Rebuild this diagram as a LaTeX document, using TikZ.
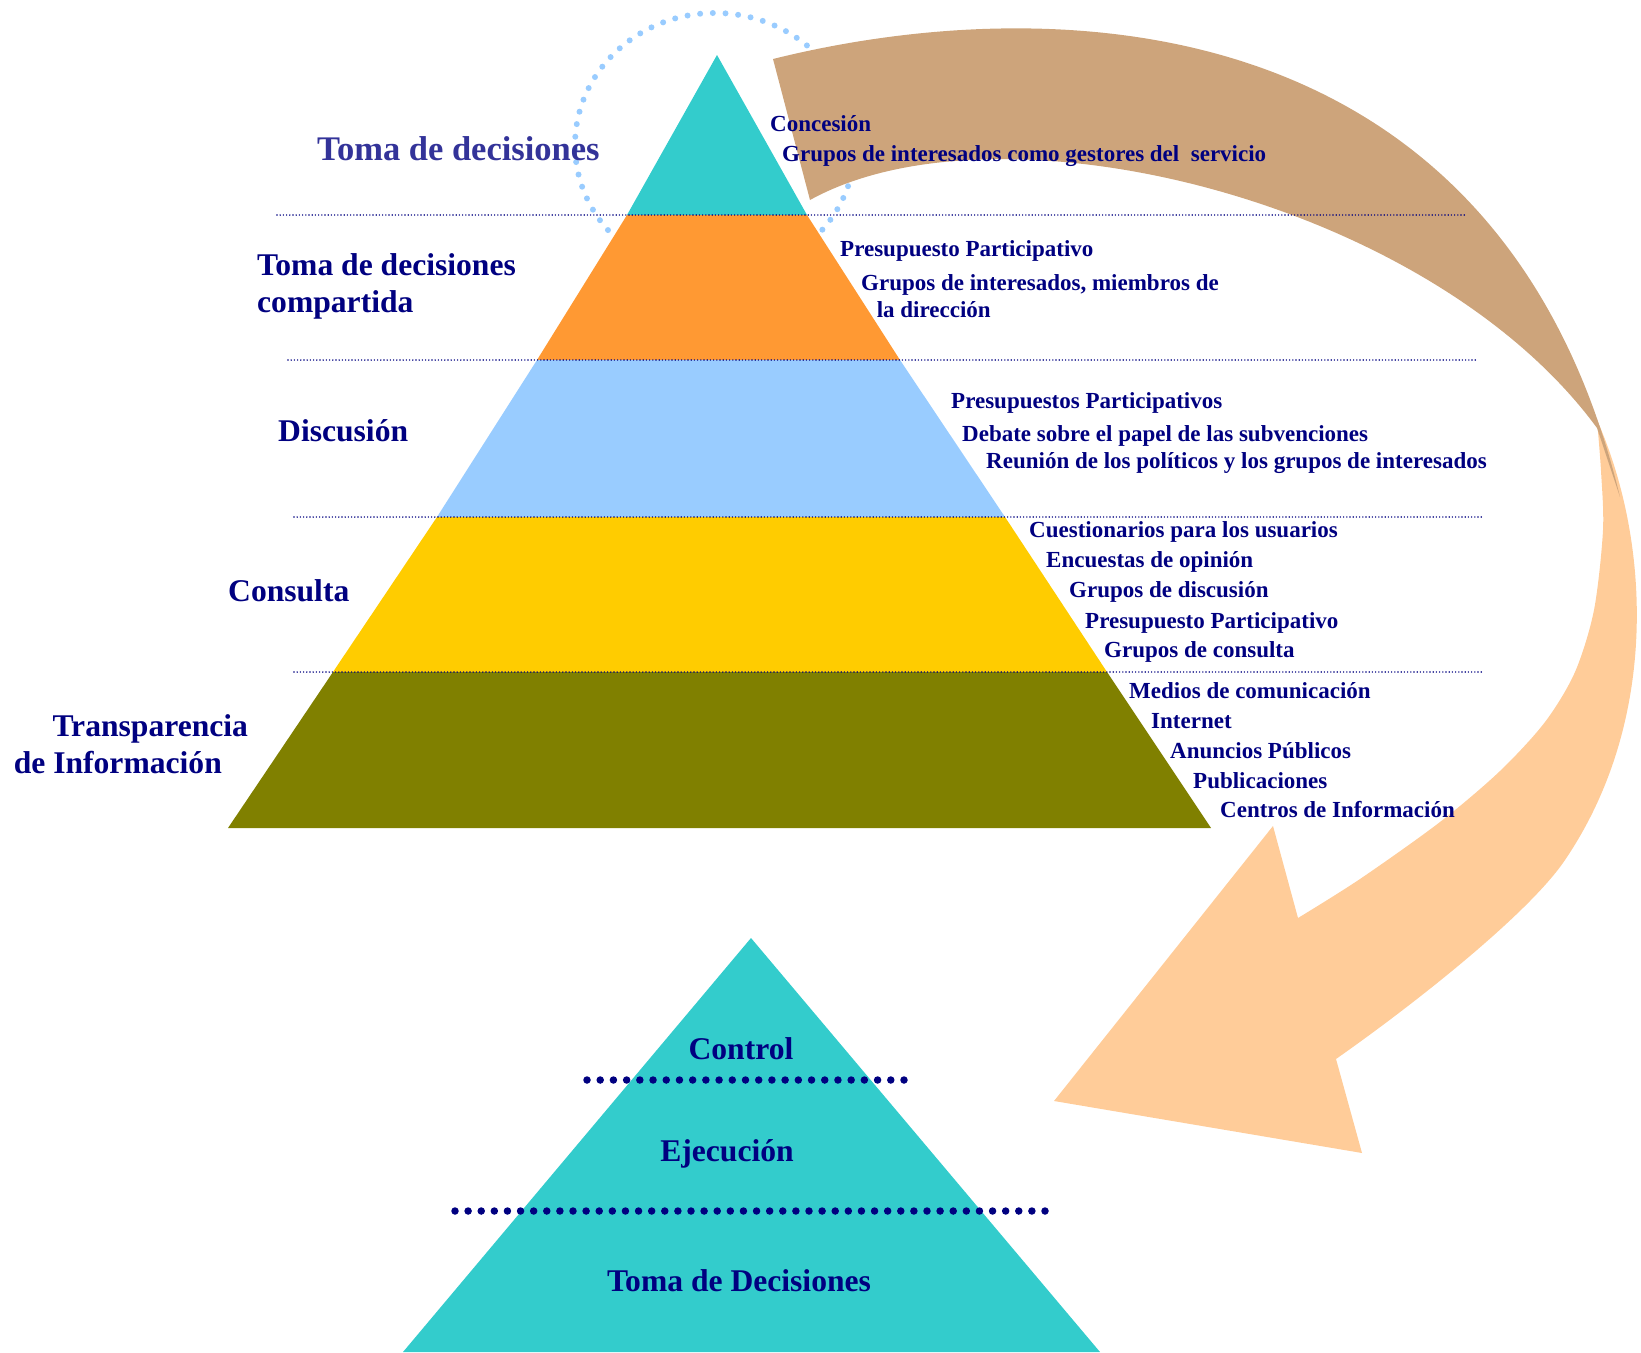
\documentclass[tikz,border=0pt]{standalone}
\usepackage{fontspec}
\setmainfont{Liberation Serif}
\usepackage{tikz}

\begin{document}
\begin{tikzpicture}[x=1pt,y=-1pt,
  band/.style={fill=#1,draw=none},
  sep/.style={draw=navy,line width=1.6pt,line cap=round,dash pattern=on 0pt off 3.2pt},
  bigsep/.style={draw=navy,line width=7.5pt,line cap=round,dash pattern=on 0pt off #1},
  level/.style={anchor=base west,inner sep=0pt,align=left,text=navy,font=\bfseries\fontsize{31.6}{37}\selectfont},
  item/.style={anchor=base west,inner sep=0pt,align=left,text=navy,font=\bfseries\fontsize{23}{26.2}\selectfont},
  stage/.style={anchor=base,inner sep=0pt,text=navy,font=\bfseries\fontsize{31.6}{37}\selectfont}]
  \definecolor{navy}{rgb}{0,0,0.5}
  \definecolor{topblue}{HTML}{333399}
  \definecolor{decide}{HTML}{33CCCC}
  \definecolor{share}{HTML}{FF9933}
  \definecolor{discuss}{HTML}{99CCFF}
  \definecolor{consult}{HTML}{FFCC00}
  \definecolor{inform}{HTML}{808000}
  \definecolor{backside}{HTML}{CDA47B}
  \definecolor{frontside}{HTML}{FFCC99}
  \useasboundingbox (0,0) rectangle (1641,1352);

  % dotted ring round the top
  \draw[discuss,line width=6pt,line cap=round,dash pattern=on 0pt off 12.7pt]
    (715,145) ellipse [x radius=140pt, y radius=132pt];

  % twisted arrow
  \fill[frontside] (1597,420) .. controls (1650,540) and (1660,720) .. (1565,860)
    .. controls (1530,912) and (1420,1000) .. (1336,1059)
    -- (1362,1153) -- (1054,1101) -- (1273,826) -- (1298,918)
    -- plot[smooth] coordinates {(1298,918) (1360,879) (1440,822) (1500,771) (1545,722) (1575,672) (1594,610) (1603,530) (1601,471) (1597,420)} -- cycle;
  \fill[backside] (773,59) .. controls (1050,-10) and (1500,0) .. (1620,497)
    -- (1597,428) .. controls (1430,200) and (1000,95) .. (810,200) -- cycle;

  % pyramid
  \fill[band=decide] (717,55) -- (807,215) -- (627,215) -- cycle;
  \fill[band=share] (627,215) -- (807,215) -- (900,360) -- (537,360) -- cycle;
  \fill[band=discuss] (537,360) -- (900,360) -- (1005,517) -- (437,517) -- cycle;
  \fill[band=consult] (437,517) -- (1005,517) -- (1107,672) -- (333,672) -- cycle;
  \fill[band=inform] (333,672) -- (1107,672) -- (1211,828) -- (228,828) -- cycle;
  \draw[sep] (277,215) -- (1467,215);
  \draw[sep] (288,360) -- (1478,360);
  \draw[sep] (294,517) -- (1484,517);
  \draw[sep] (294,672) -- (1484,672);

  \node[level,text=topblue,font=\bfseries\fontsize{34.5}{40}\selectfont] (decision) at (317,160) {Toma de decisiones};
  \node[level] (shared) at (257,312) {Toma de decisiones\\compartida};
  \node[level] (discussion) at (278,441) {Discusión};
  \node[level] (consultation) at (228,601) {Consulta};
  \node[level] (transparency) at (13.6,773) {\hspace*{38.7pt}Transparencia\\de Información};

  \node[item] (concession) at (770,131) {Concesión};
  \node[item] (managers) at (782,161) {Grupos de interesados como gestores del~ servicio};
  \node[item] (budget) at (840,256) {Presupuesto Participativo};
  \node[item] (board) at (861,317) {Grupos de interesados, miembros de\\\hspace*{15.6pt}la dirección};
  \node[item] (budgets) at (951,408) {Presupuestos Participativos};
  \node[item] (debate) at (962,441) {Debate sobre el papel de las subvenciones};
  \node[item] (meeting) at (986,468) {Reunión de los políticos y los grupos de interesados};
  \node[item] (survey) at (1029,537) {Cuestionarios para los usuarios};
  \node[item] (poll) at (1046,567) {Encuestas de opinión};
  \node[item] (focus) at (1069,597) {Grupos de discusión};
  \node[item] (budget2) at (1085,628) {Presupuesto Participativo};
  \node[item] (panel) at (1104,657) {Grupos de consulta};
  \node[item] (media) at (1129,698) {Medios de comunicación};
  \node[item] (internet) at (1151,728) {Internet};
  \node[item] (notices) at (1170,758) {Anuncios Públicos};
  \node[item] (papers) at (1193,788) {Publicaciones};
  \node[item] (centres) at (1220,817) {Centros de Información};

  % lower pyramid
  \fill[band=decide] (751,938) -- (1100,1352) -- (403,1352) -- cycle;
  \draw[bigsep=13.208pt] (587,1080) -- (904,1080);
  \draw[bigsep=13.111pt] (455,1211) -- (1045,1211);
  \node[stage] (control) at (741,1059) {Control};
  \node[stage] (execution) at (727,1161) {Ejecución};
  \node[stage] (decisions) at (739,1291) {Toma de Decisiones};
\end{tikzpicture}
\end{document}
